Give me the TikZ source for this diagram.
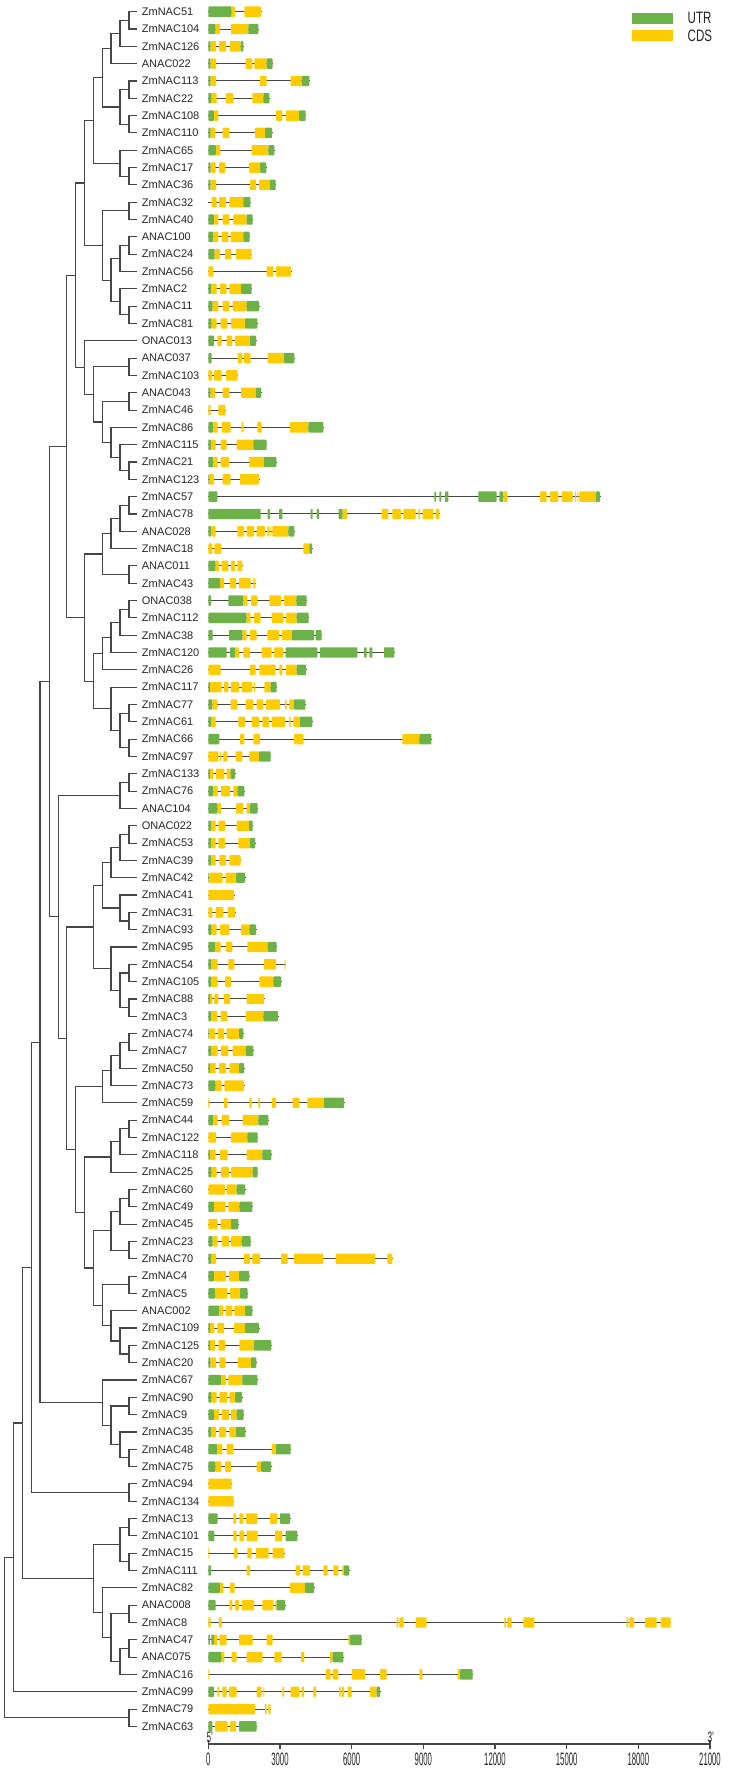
\documentclass[tikz,border=0pt]{standalone}
\usepackage{fontspec}
\setmainfont{Liberation Sans}
\usetikzlibrary{calc}
\definecolor{gr}{RGB}{108,178,72}
\definecolor{yl}{RGB}{255,204,0}
\definecolor{ln}{RGB}{70,70,70}
\tikzset{
  lab/.style={anchor=west, inner xsep=4.4pt, inner ysep=1pt, font=\fontsize{11}{13}\selectfont, text=black!85},
  br/.style={draw=ln, line width=1.1pt},
  intron/.style={draw=ln, line width=1pt},
  axisline/.style={draw=ln, line width=1.1pt},
  ticklab/.style={anchor=north, inner sep=0pt, text=black!85},
  leglab/.style={anchor=west, inner sep=0pt, text=black!85},
}
\newcommand\leaf[4]{%
  \pgfmathsetmacro\ry{11.7+17.32*#1}%
  \node[lab] (#2) at (137.3,\ry) {#2};%
  \draw[intron] ({199.3+25/3},\ry) -- ({200.7+#3/3},\ry);%
  \foreach \t/\a/\b in {#4} {\fill[fill=\t, rounded corners=0.8pt] ({200+\a/3},{\ry-5.2}) rectangle ({200+\b/3},{\ry+5.2});}%
}
\newcommand\jn[4]{%
  \path let \p1=($(#3)!0.5!(#4)$) in coordinate (#1) at (#2pt,\y1);%
  \draw[br] (#3) -| (#1) |- (#4);%
}
\begin{document}
\begin{tikzpicture}[x=1pt,y=-1pt]
\useasboundingbox (0,0) rectangle (731,1771);
% ---------------- leaves and gene structures ----------------
\leaf{0}{ZmNAC51}{183}{gr/25/95,yl/95/105,yl/133/183}
\leaf{1}{ZmNAC104}{175}{gr/25/47,yl/47/60,yl/93/145,gr/145/175}
\leaf{2}{ZmNAC126}{130}{gr/25/32,yl/32/48,yl/57/78,yl/89/122,gr/122/130}
\leaf{3}{ANAC022}{218}{gr/25/32,yl/32/48,yl/137/157,yl/163/200,gr/200/218}
\leaf{4}{ZmNAC113}{328}{gr/25/32,yl/32/48,yl/180/200,yl/272/305,gr/305/328}
\leaf{5}{ZmNAC22}{208}{gr/25/35,yl/35/50,yl/77/100,yl/157/190,gr/190/208}
\leaf{6}{ZmNAC108}{317}{gr/25/42,yl/42/55,yl/228/247,yl/258/297,gr/297/317}
\leaf{7}{ZmNAC110}{216}{gr/25/32,yl/32/46,yl/68/88,yl/165/195,gr/195/216}
\leaf{8}{ZmNAC65}{223}{gr/25/48,yl/48/61,yl/155/205,gr/205/223}
\leaf{9}{ZmNAC17}{199}{gr/25/32,yl/32/47,yl/57/76,yl/147/180,gr/180/199}
\leaf{10}{ZmNAC36}{227}{gr/25/32,yl/32/48,yl/150/168,yl/177/210,gr/210/227}
\leaf{11}{ZmNAC32}{151}{yl/35/50,yl/57/78,yl/88/130,gr/130/151}
\leaf{12}{ZmNAC40}{158}{gr/25/42,yl/42/55,yl/68/88,yl/100/140,gr/140/158}
\leaf{13}{ANAC100}{149}{gr/25/40,yl/40/55,yl/65/85,yl/92/130,gr/130/149}
\leaf{14}{ZmNAC24}{155}{gr/25/44,yl/44/60,yl/75/94,yl/107/155}
\leaf{15}{ZmNAC56}{273}{yl/25/40,yl/200/220,yl/228/273}
\leaf{16}{ZmNAC2}{155}{gr/25/33,yl/33/50,yl/60/80,yl/88/123,gr/123/155}
\leaf{17}{ZmNAC11}{177}{gr/25/38,yl/38/55,yl/68/88,yl/98/140,gr/140/177}
\leaf{18}{ZmNAC81}{172}{gr/25/35,yl/35/50,yl/62/82,yl/93/135,gr/135/172}
\leaf{19}{ONAC013}{168}{gr/25/42,yl/52/65,yl/80/97,yl/105/150,gr/150/168}
\leaf{20}{ANAC037}{283}{gr/25/35,yl/113/127,yl/132/152,yl/203/252,gr/252/283}
\leaf{21}{ZmNAC103}{113}{yl/25/36,yl/42/65,yl/78/113}
\leaf{22}{ANAC043}{183}{gr/25/32,yl/32/45,yl/68/88,yl/123/168,gr/168/183}
\leaf{23}{ZmNAC46}{76}{yl/25/32,yl/55/76}
\leaf{24}{ZmNAC86}{370}{gr/25/40,yl/40/53,yl/65/92,yl/125/130,yl/172/185,yl/270/325,gr/325/370}
\leaf{25}{ZmNAC115}{200}{gr/25/33,yl/33/47,yl/62/80,yl/110/160,gr/160/200}
\leaf{26}{ZmNAC21}{229}{gr/25/40,yl/40/53,yl/62/87,yl/148/192,gr/192/229}
\leaf{27}{ZmNAC123}{177}{gr/25/29,yl/29/42,yl/68/92,yl/120/177}
\leaf{28}{ZmNAC57}{1200}{gr/25/52,gr/703/708,gr/718/724,gr/735/745,gr/835/890,gr/898/910,yl/910/922,yl/1020/1040,yl/1050/1075,yl/1085/1118,yl/1125/1128,yl/1132/1135,yl/1138/1188,gr/1188/1200}
\leaf{29}{ZmNAC78}{718}{gr/25/182,gr/203/210,gr/237/247,gr/332/338,gr/350/357,gr/416/428,yl/428/441,yl/545/565,yl/577/603,yl/610/647,yl/655/660,yl/668/700,yl/707/718}
\leaf{30}{ANAC028}{283}{gr/25/33,yl/33/47,yl/112/132,yl/140/162,yl/170/195,yl/202/207,yl/211/214,yl/217/265,gr/265/283}
\leaf{31}{ZmNAC18}{336}{yl/25/37,yl/43/64,yl/310/328,gr/328/336}
\leaf{32}{ANAC011}{127}{gr/25/47,yl/47/57,yl/65/85,yl/93/105,yl/112/127}
\leaf{33}{ZmNAC43}{166}{gr/25/60,yl/60/72,yl/90/108,yl/117/152,yl/160/166}
\leaf{34}{ONAC038}{320}{gr/25/33,gr/85/130,yl/130/142,yl/153/172,yl/208/243,yl/252/289,gr/289/320}
\leaf{35}{ZmNAC112}{326}{gr/25/140,yl/140/152,yl/162/182,yl/215/250,yl/258/290,gr/290/326}
\leaf{36}{ZmNAC38}{365}{gr/25/38,gr/87/128,yl/128/140,yl/150/170,yl/202/237,yl/245/276,gr/276/342,gr/347/365}
\leaf{37}{ZmNAC120}{583}{gr/25/80,gr/90/105,yl/105/117,yl/130/150,yl/185/215,yl/222/250,gr/257/352,gr/360/472,gr/492/500,gr/508/517,gr/552/583}
\leaf{38}{ZmNAC26}{318}{yl/25/62,yl/150/167,yl/178/227,yl/238/247,yl/258/290,gr/290/318}
\leaf{39}{ZmNAC117}{230}{gr/25/30,yl/30/65,yl/72/85,yl/93/117,yl/125/157,yl/162/165,yl/193/212,gr/212/230}
\leaf{40}{ZmNAC77}{316}{gr/25/37,yl/37/52,yl/92/112,yl/137/160,yl/170/190,yl/198/240,yl/255/260,yl/268/282,gr/282/316}
\leaf{41}{ZmNAC61}{337}{gr/25/33,yl/33/47,yl/115/135,yl/155/177,yl/187/207,yl/215/255,yl/267/272,yl/280/300,gr/300/337}
\leaf{42}{ZmNAC66}{694}{gr/25/58,yl/120/133,yl/160/180,yl/282/310,yl/607/658,gr/658/694}
\leaf{43}{ZmNAC97}{212}{yl/25/55,yl/60/63,yl/70/82,yl/107/127,yl/148/177,gr/177/212}
\leaf{44}{ZmNAC133}{105}{gr/25/30,yl/30/40,yl/48/73,yl/80/92,gr/92/105}
\leaf{45}{ZmNAC76}{133}{gr/25/40,yl/40/53,yl/63/90,yl/100/112,gr/112/133}
\leaf{46}{ANAC104}{173}{gr/25/53,yl/53/63,yl/108/130,yl/140/150,gr/150/173}
\leaf{47}{ONAC022}{158}{gr/25/33,yl/33/47,yl/55/75,yl/110/147,gr/147/158}
\leaf{48}{ZmNAC53}{165}{gr/25/33,yl/33/47,yl/55/75,yl/115/150,gr/150/165}
\leaf{49}{ZmNAC39}{122}{gr/25/33,yl/33/47,yl/58/78,yl/88/122}
\leaf{50}{ZmNAC42}{135}{gr/25/28,yl/28/68,yl/77/108,gr/108/135}
\leaf{51}{ZmNAC41}{102}{yl/25/102}
\leaf{52}{ZmNAC31}{105}{yl/25/37,yl/47/70,yl/83/105}
\leaf{53}{ZmNAC93}{168}{gr/25/35,yl/35/50,yl/60/88,yl/123/148,gr/148/168}
\leaf{54}{ZmNAC95}{230}{gr/25/45,yl/45/62,yl/78/97,yl/142/203,gr/203/230}
\leaf{55}{ZmNAC54}{257}{gr/25/33,yl/33/53,yl/85/103,yl/192/228,yl/254/257}
\leaf{56}{ZmNAC105}{243}{gr/25/33,yl/33/53,yl/75/93,yl/178/220,gr/220/243}
\leaf{57}{ZmNAC88}{192}{gr/25/30,yl/30/37,yl/43/55,yl/72/90,yl/140/192}
\leaf{58}{ZmNAC3}{234}{gr/25/33,yl/33/52,yl/62/82,yl/137/190,gr/190/234}
\leaf{59}{ZmNAC74}{130}{gr/25/28,yl/28/45,yl/53/72,yl/80/117,gr/117/130}
\leaf{60}{ZmNAC7}{160}{gr/25/33,yl/33/53,yl/63/85,yl/98/137,gr/137/160}
\leaf{61}{ZmNAC50}{132}{gr/25/30,yl/30/47,yl/57/78,yl/88/117,gr/117/132}
\leaf{62}{ZmNAC73}{132}{gr/25/47,yl/47/65,yl/73/132}
\leaf{63}{ZmNAC59}{432}{yl/25/29,yl/72/82,yl/148/155,yl/175/180,yl/215/228,yl/278/298,yl/322/372,gr/372/432}
\leaf{64}{ZmNAC44}{205}{gr/25/40,yl/40/53,yl/65/87,yl/128/175,gr/175/205}
\leaf{65}{ZmNAC122}{173}{yl/25/48,yl/93/142,gr/142/173}
\leaf{66}{ZmNAC118}{214}{gr/25/30,yl/30/47,yl/60/83,yl/140/187,gr/187/214}
\leaf{67}{ZmNAC25}{173}{gr/25/35,yl/35/50,yl/63/87,yl/93/158,gr/158/173}
\leaf{68}{ZmNAC60}{135}{yl/25/75,yl/80/110,gr/110/135}
\leaf{69}{ZmNAC49}{157}{gr/25/42,yl/42/77,yl/85/118,gr/118/157}
\leaf{70}{ZmNAC45}{115}{yl/25/53,yl/62/93,gr/93/115}
\leaf{71}{ZmNAC23}{152}{gr/25/38,yl/38/53,yl/65/87,yl/93/125,gr/125/152}
\leaf{72}{ZmNAC70}{577}{gr/25/33,yl/33/48,yl/132/150,yl/157/180,yl/243/263,yl/282/370,yl/407/525,yl/562/577}
\leaf{73}{ZmNAC4}{147}{gr/25/42,yl/42/78,yl/87/117,gr/117/147}
\leaf{74}{ZmNAC5}{143}{gr/25/45,yl/45/82,yl/90/120,gr/120/143}
\leaf{75}{ANAC002}{157}{gr/25/58,yl/58/70,yl/77/97,yl/103/135,gr/135/157}
\leaf{76}{ZmNAC109}{177}{gr/25/30,yl/30/43,yl/52/72,yl/102/135,gr/135/177}
\leaf{77}{ZmNAC125}{214}{gr/25/30,yl/30/45,yl/55/75,yl/118/162,gr/162/214}
\leaf{78}{ZmNAC20}{169}{gr/25/32,yl/32/48,yl/58/77,yl/113/153,gr/153/169}
\leaf{79}{ZmNAC67}{172}{gr/25/63,yl/63/78,yl/85/127,gr/127/172}
\leaf{80}{ZmNAC90}{126}{gr/25/35,yl/35/50,yl/58/82,yl/88/105,gr/105/126}
\leaf{81}{ZmNAC9}{131}{gr/25/42,yl/42/57,yl/65/87,yl/93/110,gr/110/131}
\leaf{82}{ZmNAC35}{136}{gr/25/33,yl/33/48,yl/57/78,yl/88/108,gr/108/136}
\leaf{83}{ZmNAC48}{272}{gr/25/52,yl/52/67,yl/80/100,yl/215/228,gr/228/272}
\leaf{84}{ZmNAC75}{213}{gr/25/47,yl/47/64,yl/75/93,yl/170/183,gr/183/213}
\leaf{85}{ZmNAC94}{95}{yl/25/95}
\leaf{86}{ZmNAC134}{101}{yl/25/101}
\leaf{87}{ZmNAC13}{270}{gr/25/53,yl/100/108,yl/118/130,yl/138/172,yl/210/232,gr/240/270}
\leaf{88}{ZmNAC101}{292}{gr/25/43,yl/100/110,yl/118/132,yl/140/173,yl/225/247,gr/257/292}
\leaf{89}{ZmNAC15}{253}{yl/25/27,yl/102/112,yl/142/155,yl/168/206,yl/218/253}
\leaf{90}{ZmNAC111}{447}{gr/25/33,yl/140/150,yl/287/300,yl/308/330,yl/370/383,yl/400/415,yl/427/432,gr/432/447}
\leaf{91}{ZmNAC82}{342}{gr/25/60,yl/60/70,yl/90/104,yl/270/315,gr/315/342}
\leaf{92}{ANAC008}{255}{gr/25/47,yl/88/97,yl/105/117,yl/125/162,yl/187/220,yl/226/230,gr/230/255}
\leaf{93}{ZmNAC8}{1412}{yl/25/32,yl/57/65,yl/590/595,yl/598/611,yl/647/680,yl/913/918,yl/922/935,yl/970/1003,yl/1280/1285,yl/1288/1302,yl/1335/1370,yl/1382/1412}
\leaf{94}{ZmNAC47}{485}{gr/25/30,gr/34/42,yl/42/52,yl/58/80,yl/117/158,yl/200/218,yl/445/450,gr/450/485}
\leaf{95}{ANAC075}{430}{gr/25/65,yl/65/73,yl/95/110,yl/140/188,yl/223/245,yl/303/313,yl/390/398,gr/398/430}
\leaf{96}{ZmNAC16}{818}{yl/25/28,yl/377/392,yl/398/415,yl/455/495,yl/540/560,yl/658/667,yl/773/780,gr/780/818}
\leaf{97}{ZmNAC99}{540}{gr/25/42,yl/52/57,yl/67/80,yl/87/110,yl/170/185,yl/190/193,yl/247/252,yl/272/298,yl/305/312,yl/340/348,yl/417/422,yl/425/432,yl/443/455,yl/510/530,gr/530/540}
\leaf{98}{ZmNAC79}{212}{yl/25/165,yl/195/200,yl/205/212}
\leaf{99}{ZmNAC63}{170}{gr/25/37,yl/45/83,yl/90/108,gr/117/170}
% ---------------- tree ----------------
\jn{a1}{129}{ZmNAC51}{ZmNAC104}
\jn{a2}{120}{a1}{ZmNAC126}
\jn{a3}{111}{a2}{ANAC022}
\jn{a4}{129}{ZmNAC113}{ZmNAC22}
\jn{a5}{129}{ZmNAC108}{ZmNAC110}
\jn{a6}{120}{a4}{a5}
\jn{a7}{102.3}{a3}{a6}
\jn{a8}{129}{ZmNAC17}{ZmNAC36}
\jn{a9}{120}{ZmNAC65}{a8}
\jn{a10}{93.3}{a7}{a9}
\jn{a11}{129}{ZmNAC32}{ZmNAC40}
\jn{a12}{129}{ANAC100}{ZmNAC24}
\jn{a13}{120}{a12}{ZmNAC56}
\jn{a14}{129}{ZmNAC11}{ZmNAC81}
\jn{a15}{120}{ZmNAC2}{a14}
\jn{a16}{111}{a13}{a15}
\jn{a17}{102.3}{a11}{a16}
\jn{a18}{84.3}{a10}{a17}
\jn{a19}{129}{ANAC037}{ZmNAC103}
\jn{a20}{129}{ANAC043}{ZmNAC46}
\jn{a21}{129}{ZmNAC21}{ZmNAC123}
\jn{a22}{120}{ZmNAC115}{a21}
\jn{a23}{111}{ZmNAC86}{a22}
\jn{a24}{102.3}{a20}{a23}
\jn{a25}{93.3}{a19}{a24}
\jn{a26}{84.3}{ONAC013}{a25}
\jn{a27}{75.7}{a18}{a26}
\jn{b1}{129}{ZmNAC57}{ZmNAC78}
\jn{b2}{120}{b1}{ANAC028}
\jn{b3}{111}{b2}{ZmNAC18}
\jn{b4}{129}{ANAC011}{ZmNAC43}
\jn{b5}{102.3}{b3}{b4}
\jn{b6}{129}{ONAC038}{ZmNAC112}
\jn{b7}{120}{b6}{ZmNAC38}
\jn{b8}{111}{b7}{ZmNAC120}
\jn{b9}{102.3}{b8}{ZmNAC26}
\jn{b10}{129}{ZmNAC77}{ZmNAC61}
\jn{b11}{129}{ZmNAC66}{ZmNAC97}
\jn{b12}{120}{b10}{b11}
\jn{b13}{111}{ZmNAC117}{b12}
\jn{b14}{93.3}{b9}{b13}
\jn{b15}{84.3}{b5}{b14}
\jn{b16}{66.7}{a27}{b15}
\jn{c1}{129}{ZmNAC133}{ZmNAC76}
\jn{c2}{120}{c1}{ANAC104}
\jn{c3}{129}{ONAC022}{ZmNAC53}
\jn{c4}{120}{c3}{ZmNAC39}
\jn{c5}{111}{c4}{ZmNAC42}
\jn{c6}{129}{ZmNAC31}{ZmNAC93}
\jn{c7}{120}{ZmNAC41}{c6}
\jn{c8}{102.3}{c5}{c7}
\jn{c9}{129}{ZmNAC54}{ZmNAC105}
\jn{c10}{129}{ZmNAC88}{ZmNAC3}
\jn{c11}{120}{c9}{c10}
\jn{c12}{111}{ZmNAC95}{c11}
\jn{c13}{93.3}{c8}{c12}
\jn{c14}{129}{ZmNAC74}{ZmNAC7}
\jn{c15}{120}{c14}{ZmNAC50}
\jn{c16}{111}{c15}{ZmNAC73}
\jn{c17}{102.3}{c16}{ZmNAC59}
\jn{c18}{129}{ZmNAC44}{ZmNAC122}
\jn{c19}{120}{c18}{ZmNAC118}
\jn{c20}{111}{c19}{ZmNAC25}
\jn{c21}{129}{ZmNAC60}{ZmNAC49}
\jn{c22}{120}{c21}{ZmNAC45}
\jn{c23}{129}{ZmNAC23}{ZmNAC70}
\jn{c24}{111}{c22}{c23}
\jn{c25}{129}{ZmNAC4}{ZmNAC5}
\jn{c26}{129}{ZmNAC125}{ZmNAC20}
\jn{c27}{120}{ZmNAC109}{c26}
\jn{c28}{111}{ANAC002}{c27}
\jn{c29}{102.3}{c25}{c28}
\jn{c30}{93.3}{c24}{c29}
\jn{c31}{84.3}{c20}{c30}
\jn{c32}{75.7}{c17}{c31}
\jn{c33}{66.7}{c13}{c32}
\jn{c34}{58.3}{c2}{c33}
\jn{c35}{49.3}{b16}{c34}
\jn{d1}{129}{ZmNAC90}{ZmNAC9}
\jn{d2}{129}{ZmNAC48}{ZmNAC75}
\jn{d3}{120}{ZmNAC35}{d2}
\jn{d4}{111}{d1}{d3}
\jn{d5}{102.3}{ZmNAC67}{d4}
\jn{d6}{40}{c35}{d5}
\jn{d7}{129}{ZmNAC94}{ZmNAC134}
\jn{d8}{31.7}{d6}{d7}
\jn{d9}{129}{ZmNAC13}{ZmNAC101}
\jn{d10}{129}{ZmNAC15}{ZmNAC111}
\jn{d11}{120}{d9}{d10}
\jn{d12}{129}{ANAC008}{ZmNAC8}
\jn{d13}{129}{ZmNAC47}{ANAC075}
\jn{d14}{120}{d13}{ZmNAC16}
\jn{d15}{111}{d12}{d14}
\jn{d16}{102.3}{ZmNAC82}{d15}
\jn{d17}{93.3}{d11}{d16}
\jn{d18}{22.7}{d8}{d17}
\jn{d19}{13.3}{d18}{ZmNAC99}
\jn{d20}{129}{ZmNAC79}{ZmNAC63}
\jn{d21}{4.3}{d19}{d20}
% ---------------- legend ----------------
\fill[gr] (631.7,12.7) rectangle (672.7,24);
\fill[yl] (631.7,30) rectangle (672.7,41.3);
\node[leglab] (utrlab) at (687.5,18.4) {\scalebox{0.7}[1]{\fontsize{16.5}{18}\selectfont UTR}};
\node[leglab] (cdslab) at (687.5,35.7) {\scalebox{0.7}[1]{\fontsize{16.5}{18}\selectfont CDS}};
% ---------------- axis ----------------
\draw[axisline] (208.3,1744) -- (710,1744);
\foreach \k/\lab in {0/0,1/3000,2/6000,3/9000,4/12000,5/15000,6/18000,7/21000}{
  \draw[axisline] ({208.3+71.67*\k},1744) -- ({208.3+71.67*\k},1749);
  \node[ticklab] (tick\k) at ({208.3+71.67*\k},1752.5) {\scalebox{0.43}[1]{\fontsize{18}{19}\selectfont \lab}};
}
\draw[axisline] (208.3,1740) -- (208.3,1744);
\draw[axisline] (710,1740) -- (710,1744);
\node[anchor=south, inner sep=0pt, text=black!85] (five) at (209.8,1742.8) {\scalebox{0.55}[1]{\fontsize{15}{16}\selectfont 5'}};
\node[anchor=south, inner sep=0pt, text=black!85] (three) at (710.8,1742.8) {\scalebox{0.55}[1]{\fontsize{15}{16}\selectfont 3'}};
\end{tikzpicture}
\end{document}
